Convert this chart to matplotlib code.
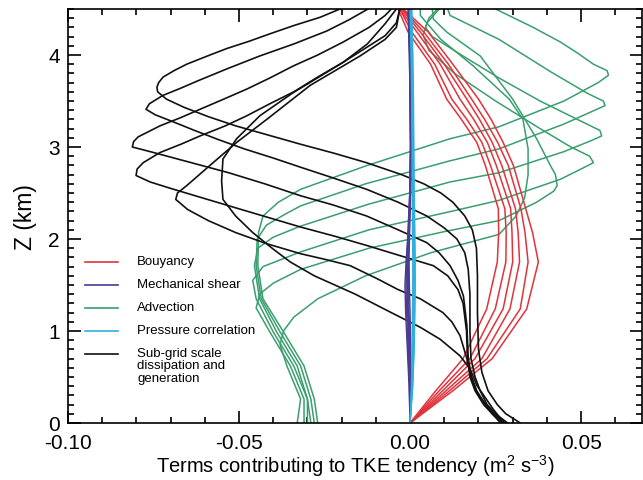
import numpy as np
import matplotlib
matplotlib.use("Agg")
import matplotlib.pyplot as plt
import matplotlib.transforms as mtransforms
from matplotlib.ticker import MultipleLocator

plt.rcParams['font.family'] = ['Liberation Sans', 'DejaVu Sans']
plt.rcParams['mathtext.fontset'] = 'custom'
plt.rcParams['mathtext.rm'] = 'Liberation Sans'

# ---- Buoyancy (red): heights and values for each time
z_red = [0.0, 0.35, 0.7, 1.24, 1.75, 2.07, 2.33, 2.8, 3.05, 3.3, 3.52, 3.9, 4.25, 4.5]
red_1 = [0, 0.0125, 0.0240, 0.0341, 0.0375, 0.0358, 0.0338, 0.0302, 0.0272, 0.0237, 0.0200, 0.0125, 0.0053, -0.0020]
red_2 = [0, 0.0115, 0.0225, 0.0322, 0.0345, 0.0336, 0.0324, 0.0287, 0.0256, 0.0218, 0.0180, 0.0112, 0.0040, -0.0022]
red_3 = [0, 0.0105, 0.0210, 0.0292, 0.0320, 0.0316, 0.0308, 0.0268, 0.0240, 0.0203, 0.0166, 0.0100, 0.0030, -0.0025]
red_4 = [0, 0.0095, 0.0190, 0.0272, 0.0300, 0.0298, 0.0294, 0.0252, 0.0226, 0.0186, 0.0146, 0.0088, 0.0020, -0.0030]
red_5 = [0, 0.0085, 0.0175, 0.0249, 0.0280, 0.0281, 0.0277, 0.0235, 0.0210, 0.0166, 0.0122, 0.0072, 0.0005, -0.0030]
red_6 = [0, 0.0075, 0.0155, 0.0224, 0.0255, 0.0259, 0.0258, 0.0220, 0.0195, 0.0150, 0.0107, 0.0060, -0.0006, -0.0035]

# ---- Mechanical shear (purple) and pressure correlation (cyan), near zero
z_small = [0.0, 0.4, 0.8, 1.2, 1.5, 1.8, 2.1, 2.5, 3.0, 3.5, 4.0, 4.5]
shear_1 = [0.0, -0.0003, -0.0008, -0.0013, -0.0015, -0.0011, -0.0004, 0.0001, 0.0002, 0.0000, -0.0002, -0.0006]
shear_2 = [0.0, -0.0002, -0.0006, -0.0010, -0.0012, -0.0010, -0.0006, -0.0001, 0.0001, 0.0000, -0.0002, -0.0005]
shear_3 = [0.0, -0.0001, -0.0004, -0.0007, -0.0009, -0.0008, -0.0005, -0.0001, 0.0001, 0.0001, -0.0001, -0.0004]
shear_4 = [0.0, 0.0000, -0.0002, -0.0005, -0.0007, -0.0007, -0.0004, 0.0000, 0.0002, 0.0001, -0.0001, -0.0004]
shear_5 = [0.0, 0.0001, 0.0000, -0.0003, -0.0005, -0.0005, -0.0003, 0.0001, 0.0002, 0.0001, 0.0000, -0.0003]
shear_6 = [0.0, 0.0002, 0.0002, 0.0000, -0.0002, -0.0003, -0.0001, 0.0002, 0.0003, 0.0002, 0.0000, -0.0002]
press_1 = [0.0, 0.0004, 0.0006, 0.0007, 0.0008, 0.0008, 0.0007, 0.0007, 0.0006, 0.0005, 0.0003, 0.0000]
press_2 = [0.0, 0.0005, 0.0007, 0.0009, 0.0009, 0.0010, 0.0009, 0.0008, 0.0007, 0.0006, 0.0004, 0.0001]
press_3 = [0.0, 0.0006, 0.0009, 0.0010, 0.0011, 0.0011, 0.0010, 0.0009, 0.0008, 0.0007, 0.0005, 0.0002]
press_4 = [0.0, 0.0006, 0.0010, 0.0012, 0.0012, 0.0012, 0.0011, 0.0010, 0.0009, 0.0008, 0.0006, 0.0003]
press_5 = [0.0, 0.0007, 0.0011, 0.0013, 0.0014, 0.0013, 0.0012, 0.0011, 0.0010, 0.0009, 0.0007, 0.0004]
press_6 = [0.0, 0.0008, 0.0012, 0.0014, 0.0015, 0.0015, 0.0014, 0.0012, 0.0011, 0.0010, 0.0008, 0.0005]

# ---- Advection (green): (z, value) pairs per time
adv_1 = [(0, -0.027), (0.26, -0.028), (0.62, -0.031), (0.99, -0.037), (1.35, -0.043), (1.71, -0.0445),
         (2.07, -0.0443), (2.25, -0.043), (2.4, -0.0385), (2.54, -0.032), (2.8, -0.0125), (3.09, 0.0117),
         (3.22, 0.026), (3.5, 0.045), (3.7, 0.055), (3.78, 0.058), (3.83, 0.0576), (3.9, 0.0536),
         (4.02, 0.049), (4.14, 0.044), (4.3, 0.036), (4.5, 0.025)]
adv_2 = [(0, -0.028), (0.26, -0.029), (0.62, -0.032), (0.99, -0.038), (1.35, -0.0435), (1.71, -0.045),
         (2.0, -0.0447), (2.15, -0.042), (2.26, -0.037), (2.36, -0.032), (2.6, -0.013), (2.85, 0.0117),
         (2.98, 0.026), (3.25, 0.045), (3.4, 0.054), (3.45, 0.057), (3.5, 0.0565), (3.58, 0.052),
         (3.82, 0.041), (4.17, 0.026), (4.43, 0.0117), (4.5, 0.011)]
adv_3 = [(0, -0.029), (0.26, -0.030), (0.62, -0.033), (0.99, -0.039), (1.35, -0.044), (1.71, -0.0455),
         (1.9, -0.0445), (2.02, -0.040), (2.14, -0.032), (2.38, -0.012), (2.62, 0.0117), (2.72, 0.026),
         (2.95, 0.045), (3.07, 0.053), (3.12, 0.056), (3.18, 0.0555), (3.28, 0.050), (3.5, 0.038),
         (3.75, 0.026), (4.0, 0.015), (4.2, 0.0065), (4.3, 0.0045), (4.4, 0.0055), (4.5, 0.008)]
adv_4 = [(0, -0.030), (0.26, -0.030), (0.62, -0.034), (0.99, -0.040), (1.35, -0.045), (1.55, -0.046),
         (1.7, -0.043), (1.86, -0.032), (2.1, -0.012), (2.3, 0.012), (2.42, 0.026), (2.65, 0.044),
         (2.78, 0.051), (2.83, 0.0536), (2.9, 0.0525), (3.0, 0.047), (3.2, 0.038), (3.5, 0.025),
         (3.8, 0.013), (4.05, 0.0055), (4.22, 0.0038), (4.35, 0.005), (4.5, 0.0085)]
adv_5 = [(0, -0.031), (0.26, -0.031), (0.62, -0.035), (0.99, -0.041), (1.25, -0.045), (1.4, -0.044),
         (1.52, -0.040), (1.67, -0.032), (1.9, -0.012), (2.08, 0.010), (2.2, 0.026), (2.4, 0.037),
         (2.52, 0.042), (2.58, 0.043), (2.7, 0.0425), (2.8, 0.041), (3.09, 0.037), (3.52, 0.030),
         (3.99, 0.0205), (4.25, 0.0107), (4.39, 0.0068), (4.5, 0.0065)]
adv_6 = [(0, -0.033), (0.26, -0.032), (0.62, -0.036), (0.85, -0.038), (1.0, -0.037), (1.15, -0.034),
         (1.35, -0.027), (1.6, -0.013), (1.85, 0.006), (2.05, 0.026), (2.25, 0.031), (2.45, 0.0335),
         (2.7, 0.0345), (2.98, 0.0345), (3.3, 0.033), (3.52, 0.029), (3.88, 0.0185), (4.17, 0.009),
         (4.43, 0.003), (4.5, 0.003)]

# ---- Sub-grid scale dissipation and generation (black)
sgs_1 = [(0.0, 0.0322), (0.1, 0.028), (0.2, 0.0255), (0.35, 0.0228), (0.55, 0.021), (0.8, 0.0200),
         (1.2, 0.0197), (1.6, 0.0197), (1.9, 0.0194), (2.1, 0.0182), (2.25, 0.0160), (2.4, 0.0125),
         (2.5, 0.0090), (2.6, 0.0040), (2.7, -0.0025), (2.83, -0.0128), (2.93, -0.022), (3.03, -0.032),
         (3.13, -0.0415), (3.23, -0.051), (3.33, -0.059), (3.43, -0.066), (3.52, -0.0712), (3.6, -0.0738),
         (3.65, -0.0740), (3.7, -0.0735), (3.76, -0.0722), (3.83, -0.069), (3.90, -0.0653), (4.0, -0.0585),
         (4.07, -0.0536), (4.15, -0.047), (4.23, -0.041), (4.32, -0.034), (4.41, -0.0263), (4.5, -0.0205)]
sgs_2 = [(0.0, 0.0285), (0.1, 0.025), (0.2, 0.0225), (0.35, 0.0205), (0.5, 0.019), (0.7, 0.0178),
         (1.0, 0.0175), (1.4, 0.0175), (1.67, 0.0170), (1.85, 0.0160), (2.0, 0.0137), (2.12, 0.010),
         (2.25, 0.0049), (2.4, -0.0035), (2.54, -0.0127), (2.66, -0.0222), (2.78, -0.032), (2.88, -0.040),
         (2.98, -0.0485), (3.08, -0.056), (3.18, -0.063), (3.27, -0.069), (3.35, -0.0745), (3.41, -0.0772),
         (3.47, -0.0762), (3.56, -0.0723), (3.64, -0.067), (3.72, -0.062), (3.85, -0.0535), (3.99, -0.0439),
         (4.12, -0.034), (4.26, -0.0244), (4.38, -0.018), (4.5, -0.0123)]
sgs_3 = [(0.0, 0.0278), (0.1, 0.0245), (0.2, 0.022), (0.35, 0.0195), (0.5, 0.0180), (0.7, 0.0170),
         (1.06, 0.0166), (1.38, 0.0156), (1.55, 0.014), (1.71, 0.0117), (1.85, 0.0085), (1.96, 0.0049),
         (2.1, -0.0035), (2.25, -0.0127), (2.37, -0.0225), (2.47, -0.032), (2.6, -0.0425), (2.72, -0.053),
         (2.84, -0.065), (2.94, -0.075), (3.0, -0.0812), (3.06, -0.0808), (3.11, -0.0795), (3.23, -0.0731),
         (3.32, -0.067), (3.41, -0.0614), (3.52, -0.0545), (3.63, -0.0477), (3.75, -0.041), (3.88, -0.0342),
         (4.0, -0.027), (4.14, -0.0196), (4.3, -0.012), (4.43, -0.0073), (4.5, -0.0055)]
sgs_4 = [(0.0, 0.0272), (0.1, 0.024), (0.2, 0.0215), (0.35, 0.019), (0.5, 0.0175), (0.7, 0.0168),
         (1.0, 0.0165), (1.3, 0.0155), (1.45, 0.014), (1.6, 0.011), (1.71, 0.0068), (1.82, -0.003),
         (1.93, -0.0127), (2.03, -0.022), (2.13, -0.032), (2.24, -0.042), (2.35, -0.052), (2.45, -0.061),
         (2.55, -0.070), (2.62, -0.076), (2.69, -0.0801), (2.76, -0.0798), (2.83, -0.078), (2.94, -0.0731),
         (3.03, -0.067), (3.12, -0.0614), (3.23, -0.054), (3.34, -0.0477), (3.47, -0.041), (3.6, -0.034),
         (3.76, -0.027), (3.92, -0.0196), (4.12, -0.0125), (4.34, -0.0073), (4.5, -0.004)]
sgs_5 = [(0.0, 0.0265), (0.1, 0.024), (0.19, 0.0224), (0.33, 0.0195), (0.48, 0.018), (0.7, 0.0166),
         (0.95, 0.0146), (1.1, 0.0122), (1.2, 0.0096), (1.35, 0.003), (1.45, -0.0035), (1.57, -0.0097),
         (1.71, -0.0175), (1.78, -0.025), (1.84, -0.032), (1.95, -0.042), (2.07, -0.051), (2.2, -0.059),
         (2.32, -0.065), (2.43, -0.0685), (2.5, -0.068), (2.58, -0.0653), (2.8, -0.0585), (3.05, -0.0507),
         (3.3, -0.0419), (3.67, -0.0292), (3.99, -0.0146), (4.17, -0.0073), (4.3, -0.004), (4.5, -0.003)]
sgs_6 = [(0.0, 0.0275), (0.15, 0.0243), (0.41, 0.0195), (0.59, 0.0175), (0.73, 0.0146), (0.91, 0.0088),
         (1.04, 0.003), (1.2, -0.0055), (1.4, -0.016), (1.6, -0.028), (1.75, -0.035), (1.89, -0.040),
         (2.07, -0.046), (2.25, -0.051), (2.43, -0.0547), (2.63, -0.0551), (2.87, -0.0547), (3.09, -0.0507),
         (3.34, -0.0439), (3.59, -0.0342), (3.92, -0.0196), (4.21, -0.0073), (4.35, -0.004), (4.5, -0.003)]

red_c = '#e2323a'
shear_c = '#4a3b94'
adv_c = '#3a9e6e'
press_c = '#2fb0dc'
sgs_c = '#111111'

fig = plt.figure(figsize=(6.43, 4.81), dpi=100)
ax = fig.add_axes([68 / 643, 57 / 481, 574 / 643, 414 / 481])

for adv in [adv_1, adv_2, adv_3, adv_4, adv_5, adv_6]:
    z, x = zip(*adv)
    ax.plot(x, z, color=adv_c, lw=1.1)
for r in [red_1, red_2, red_3, red_4, red_5, red_6]:
    ax.plot(r, z_red, color=red_c, lw=1.1)
for s in [sgs_1, sgs_2, sgs_3, sgs_4, sgs_5, sgs_6]:
    z, x = zip(*s)
    ax.plot(x, z, color=sgs_c, lw=1.2)
for p in [shear_1, shear_2, shear_3, shear_4, shear_5, shear_6]:
    ax.plot(p, z_small, color=shear_c, lw=1.0)
for p in [press_1, press_2, press_3, press_4, press_5, press_6]:
    ax.plot(p, z_small, color=press_c, lw=1.0)

ax.set_xlim(-0.10, 0.0678)
ax.set_ylim(0, 4.5)
ax.xaxis.set_major_locator(MultipleLocator(0.05))
ax.xaxis.set_minor_locator(MultipleLocator(0.01))
ax.yaxis.set_major_locator(MultipleLocator(1))
ax.yaxis.set_minor_locator(MultipleLocator(0.1))
ax.xaxis.set_major_formatter(plt.FuncFormatter(lambda v, p: f"{v:.2f}".replace("-0.00", "0.00")))
ax.tick_params(which='both', direction='in', top=True, right=True, labelsize=15, width=1.2)
ax.tick_params(which='major', length=9)
ax.tick_params(which='minor', length=4.5)
ax.tick_params(axis='x', which='major', pad=7)
ax.tick_params(axis='y', which='major', pad=6)
for sp in ax.spines.values():
    sp.set_linewidth(1.2)

ax.set_xlabel(r'Terms contributing to TKE tendency (m$^2$ s$^{-3}$)', fontsize=14.5, labelpad=0)
ax.set_ylabel('Z (km)', fontsize=16.5, labelpad=8)

# the "0" label on the height axis sits a little above its tick
fig.canvas.draw()
zero_lab = ax.yaxis.get_major_ticks()[0].label1
zero_lab.set_transform(zero_lab.get_transform() + mtransforms.ScaledTranslation(0, 6 / 100, fig.dpi_scale_trans))

# legend drawn in axes fraction, handle aligned with the first text line
leg_names = ['Bouyancy', 'Mechanical shear', 'Advection', 'Pressure correlation',
             'Sub-grid scale\ndissipation and\ngeneration']
leg_colors = [red_c, shear_c, adv_c, press_c, sgs_c]
for i, (name, c) in enumerate(zip(leg_names, leg_colors)):
    yy = (424 - 263 - 23 * i) / 414
    ax.plot([(85 - 68) / 574, (118 - 68) / 574], [yy, yy], color=c, lw=1.2, transform=ax.transAxes)
    ax.text((137 - 68) / 574, yy + 7 / 414, name, fontsize=9.5, va='top', ha='left',
            transform=ax.transAxes, linespacing=1.05)

fig.savefig('out.png', dpi=100)
